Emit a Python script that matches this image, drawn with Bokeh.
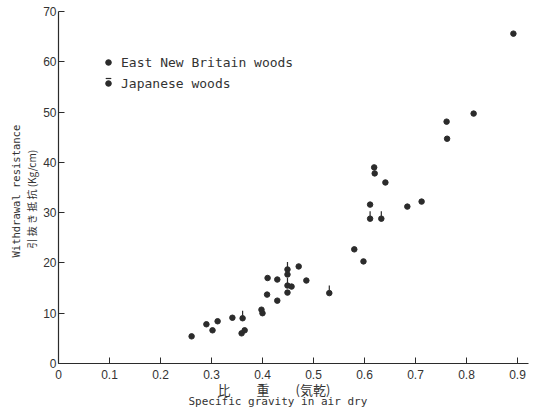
import math
from bokeh.plotting import figure
from bokeh.models import (ColumnDataSource, Legend, LegendItem, Title,
                          FixedTicker, Range1d)
from bokeh.embed import file_html
from bokeh.resources import INLINE

# East New Britain woods
enb_sg = [0.261, 0.290, 0.302, 0.312, 0.341, 0.359, 0.365, 0.398, 0.400,
          0.409, 0.410, 0.429, 0.429, 0.449, 0.449, 0.457, 0.471, 0.486,
          0.580, 0.598, 0.611, 0.619, 0.620, 0.641, 0.684, 0.712, 0.761,
          0.762, 0.814, 0.892]
enb_wr = [5.4, 7.8, 6.6, 8.4, 9.1, 6.0, 6.6, 10.7, 10.0,
          13.7, 17.0, 12.5, 16.7, 17.7, 14.1, 15.3, 19.3, 16.5,
          22.7, 20.3, 31.6, 39.0, 37.8, 36.0, 31.2, 32.2, 48.1,
          44.7, 49.7, 65.6]

# Japanese woods
jp_sg = [0.361, 0.449, 0.449, 0.531, 0.611, 0.633]
jp_wr = [9.0, 18.7, 15.5, 14.0, 28.8, 28.8]

x_ticks = [0, 0.1, 0.2, 0.3, 0.4, 0.5, 0.6, 0.7, 0.8, 0.9]
y_ticks = [0, 10, 20, 30, 40, 50, 60, 70]

INK = "#2b2b2b"
TXT = "#333333"
FONT = "Liberation Sans"
MONO = "DejaVu Sans Mono"

p = figure(frame_width=470, frame_height=352, output_backend="svg",
           toolbar_location=None,
           x_range=Range1d(0, 0.9216), y_range=Range1d(0, 70),
           min_border_left=58, min_border_right=6, min_border_top=11,
           min_border_bottom=52)
p.outline_line_color = None
p.grid.visible = False
p.background_fill_color = "white"
p.border_fill_color = "white"

for ax in (p.xaxis[0], p.yaxis[0]):
    ax.axis_line_color = INK
    ax.axis_line_width = 1.2
    ax.major_tick_line_color = INK
    ax.major_tick_in = 6
    ax.major_tick_out = 0
    ax.minor_tick_line_color = None
    ax.major_label_text_font = FONT
    ax.major_label_text_font_size = "12px"
    ax.major_label_text_color = TXT

p.xaxis[0].ticker = FixedTicker(ticks=x_ticks)
p.yaxis[0].ticker = FixedTicker(ticks=y_ticks)
p.xaxis[0].major_label_overrides = {t: ("0" if t == 0 else str(t)) for t in x_ticks}
p.xaxis[0].major_label_standoff = 6
p.yaxis[0].major_label_standoff = 2

enb_src = ColumnDataSource(dict(x=enb_sg, y=enb_wr))
jp_src = ColumnDataSource(dict(x=jp_sg, y=jp_wr,
                               ypin=[v + 1.0 for v in jp_wr]))

r_pin = p.scatter(x="x", y="ypin", source=jp_src, marker="dash",
                  angle=math.pi / 2, size=5, line_color=INK, line_width=1.2)
r_enb = p.scatter(x="x", y="y", source=enb_src, size=5.5, marker="circle",
                  fill_color=INK, line_color=INK)
r_jp = p.scatter(x="x", y="y", source=jp_src, size=5.5, marker="circle",
                 fill_color=INK, line_color=INK)

def style_legend(lg):
    lg.border_line_color = None
    lg.background_fill_alpha = 0
    lg.padding = 0
    lg.margin = 0
    lg.glyph_width = 14
    lg.glyph_height = 20
    lg.label_height = 20
    lg.spacing = 1
    lg.label_standoff = 6
    lg.label_text_font = MONO
    lg.label_text_font_size = "13px"
    lg.label_text_color = TXT

legend = Legend(items=[
    LegendItem(label="East New Britain woods", renderers=[r_enb]),
    LegendItem(label="Japanese woods", renderers=[r_jp]),
], location=(43, 270))
style_legend(legend)
p.add_layout(legend)

# the small pin above the Japanese-woods legend dot
pin_legend = Legend(items=[LegendItem(label=" ", renderers=[r_pin])],
                    location=(43, 275))
style_legend(pin_legend)
p.add_layout(pin_legend)

# axis titles (closest to the frame first)
p.add_layout(Title(text="引 抜 き 抵 抗  (Kg/cm)", align="left", offset=115,
                   standoff=3, text_font="Noto Sans CJK JP",
                   text_font_size="10px", text_font_style="normal",
                   text_color=TXT), "left")
p.add_layout(Title(text="Withdrawal resistance", align="left", offset=106,
                   standoff=-2, text_font=MONO,
                   text_font_size="10.5px", text_font_style="normal",
                   text_color=TXT), "left")
p.add_layout(Title(text="比　　重　　(気乾)", align="left", offset=159,
                   standoff=-8, text_font="Noto Sans CJK JP",
                   text_font_size="13px", text_font_style="normal",
                   text_color=TXT), "below")
p.add_layout(Title(text="Specific gravity in air dry", align="left", offset=130,
                   standoff=-3, text_font=MONO,
                   text_font_size="11px", text_font_style="normal",
                   text_color=TXT), "below")

open("out.html", "w").write(file_html(p, INLINE))
